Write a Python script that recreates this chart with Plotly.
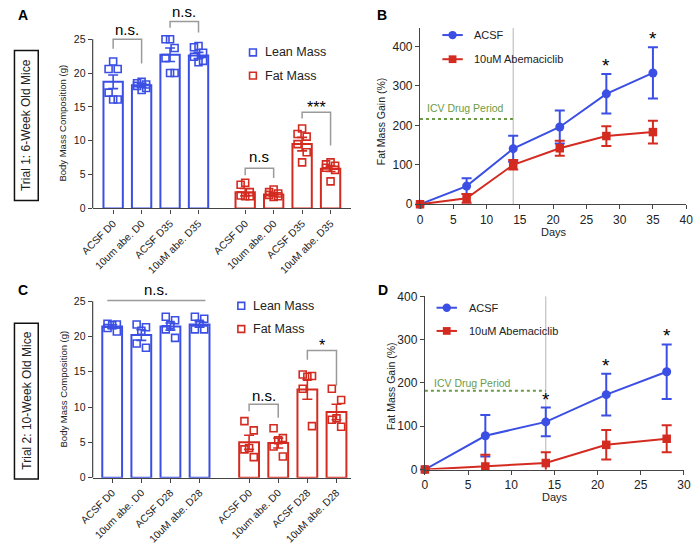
import plotly.graph_objects as go

W, H = 700, 545
BLUE = "#3b4fe4"
RED = "#d42b21"
GRAY = "#9a9a9a"
GREEN = "#6b9b48"
AXIS = "#444444"
TXT = "#222222"
FONT = "Liberation Sans, Arial, sans-serif"

# ---------------- Panel A data (Trial 1) ----------------
a_labels = ["ACSF D0", "10um abe. D0", "ACSF D35", "10uM abe. D35"]
a_lean_mean = [18.7, 18.2, 22.7, 22.6]
a_lean_sem = [1.0, 0.3, 1.0, 0.45]
a_lean_pts = [
    [21.7, 20.6, 20.6, 17.1, 16.1, 16.1],
    [18.7, 18.5, 18.3, 18.1, 17.8, 17.5],
    [25.0, 25.0, 23.7, 22.2, 20.0, 20.0],
    [24.0, 23.8, 23.0, 22.4, 21.8, 21.6],
]
a_fat_mean = [2.4, 2.05, 9.5, 5.85]
a_fat_sem = [0.55, 0.25, 1.0, 0.4]
a_fat_pts = [
    [3.8, 3.5, 2.4, 1.9, 1.8, 1.8],
    [2.8, 2.4, 2.2, 2.0, 1.8, 1.7],
    [11.8, 11.0, 10.6, 9.5, 8.3, 6.8],
    [6.8, 6.5, 6.3, 6.0, 5.7, 4.0],
]

# ---------------- Panel C data (Trial 2) ----------------
c_labels = ["ACSF D0", "10um abe. D0", "ACSF D28", "10uM abe. D28"]
c_lean_mean = [21.4, 20.2, 21.4, 21.7]
c_lean_sem = [0.25, 0.75, 0.5, 0.4]
c_lean_pts = [
    [21.8, 21.7, 21.6, 21.2, 20.7],
    [21.7, 21.3, 20.8, 19.0, 18.4],
    [22.8, 22.3, 21.6, 21.0, 19.8],
    [22.8, 22.5, 21.8, 21.0, 21.0],
]
c_fat_mean = [5.0, 4.9, 12.5, 9.3]
c_fat_sem = [1.0, 0.7, 1.4, 1.1]
c_fat_pts = [
    [8.0, 6.7, 4.2, 4.0, 2.9],
    [7.0, 5.6, 5.3, 4.4, 3.0],
    [14.6, 14.4, 14.3, 12.6, 7.3],
    [12.6, 11.0, 8.4, 8.2, 7.2],
]

# ---------------- Panel B data (Trial 1 fat gain) ----------------
b_days = [0, 7, 14, 21, 28, 35]
b_acsf = [0, 46, 141, 196, 280, 333]
b_acsf_err = [0, 20, 33, 42, 50, 65]
b_abe = [0, 15, 100, 142, 173, 183]
b_abe_err = [0, 11, 12, 19, 25, 29]
b_sig_days = [28, 35]

# ---------------- Panel D data (Trial 2 fat gain) ----------------
d_days = [0, 7, 14, 21, 28]
d_acsf = [0, 78, 110, 173, 226]
d_acsf_err = [0, 48, 33, 48, 63]
d_abe = [0, 7, 15, 57, 71]
d_abe_err = [0, 27, 25, 34, 31]
d_sig_days = [14, 21, 28]

ICV_END_DAY = 14


def px(x):
    return x / W


def py(y):
    return 1 - y / H


JIT = {6: [0.0, -0.16, 0.16, -0.16, 0.16, 0.0],
       5: [-0.16, 0.16, 0.0, -0.16, 0.16]}

fig = go.Figure()
shapes = []
annots = []


def bar_panel(xa, ya, pos_lean, pos_fat, lean_mean, lean_sem, lean_pts,
              fat_mean, fat_sem, fat_pts):
    for pos, mean, sem, pts, col in [(pos_lean, lean_mean, lean_sem, lean_pts, BLUE),
                                      (pos_fat, fat_mean, fat_sem, fat_pts, RED)]:
        fig.add_trace(go.Bar(
            x=pos, y=mean, width=0.68, xaxis=xa, yaxis=ya,
            marker=dict(color="white", line=dict(color=col, width=2)),
            error_y=dict(type="data", array=sem, color=col, thickness=1.6, width=5),
            showlegend=False, hoverinfo="skip"))
        xs, ys = [], []
        for p, grp in zip(pos, pts):
            j = JIT[len(grp)]
            for k, v in enumerate(grp):
                xs.append(p + j[k])
                ys.append(v)
        fig.add_trace(go.Scatter(
            x=xs, y=ys, mode="markers", xaxis=xa, yaxis=ya, cliponaxis=False,
            marker=dict(symbol="square-open", size=7, color=col, line=dict(width=1.6)),
            showlegend=False, hoverinfo="skip"))


# positions: two groups of four with a gap
a_pos_lean = [i for i in range(4)]
a_pos_fat = [i + 4.64 for i in range(4)]
c_pos_lean = [i for i in range(4)]
c_pos_fat = [i + 4.7 for i in range(4)]

bar_panel("x", "y", a_pos_lean, a_pos_fat, a_lean_mean, a_lean_sem, a_lean_pts,
          a_fat_mean, a_fat_sem, a_fat_pts)
bar_panel("x3", "y3", c_pos_lean, c_pos_fat, c_lean_mean, c_lean_sem, c_lean_pts,
          c_fat_mean, c_fat_sem, c_fat_pts)


def line_panel(xa, ya, days, acsf, acsf_err, abe, abe_err):
    fig.add_trace(go.Scatter(
        x=days, y=acsf, mode="lines+markers", xaxis=xa, yaxis=ya, cliponaxis=False,
        line=dict(color=BLUE, width=2), marker=dict(symbol="circle", size=9, color=BLUE),
        error_y=dict(type="data", array=acsf_err, color=BLUE, thickness=2, width=5),
        showlegend=False, hoverinfo="skip"))
    fig.add_trace(go.Scatter(
        x=days, y=abe, mode="lines+markers", xaxis=xa, yaxis=ya, cliponaxis=False,
        line=dict(color=RED, width=2), marker=dict(symbol="square", size=8.5, color=RED),
        error_y=dict(type="data", array=abe_err, color=RED, thickness=2, width=5),
        showlegend=False, hoverinfo="skip"))


line_panel("x2", "y2", b_days, b_acsf, b_acsf_err, b_abe, b_abe_err)
line_panel("x4", "y4", d_days, d_acsf, d_acsf_err, d_abe, d_abe_err)

# stars above ACSF error bars
for xa, ya, days, acsf, err, sig in [("x2", "y2", b_days, b_acsf, b_acsf_err, b_sig_days),
                                     ("x4", "y4", d_days, d_acsf, d_acsf_err, d_sig_days)]:
    for d in sig:
        i = days.index(d)
        annots.append(dict(x=d, y=acsf[i] + err[i], xref=xa, yref=ya, text="*",
                           showarrow=False, xanchor="center", yanchor="bottom", yshift=-4,
                           font=dict(size=19, color="black", family=FONT)))

# ICV period markers
for xa, ya, level, txt_y in [("x2", "y2", 216, 245), ("x4", "y4", 182, 201)]:
    shapes.append(dict(type="line", xref=xa, yref=ya + " domain", x0=ICV_END_DAY, x1=ICV_END_DAY,
                       y0=0, y1=1, line=dict(color="#b5b5b5", width=1), layer="below"))
    shapes.append(dict(type="line", xref=xa, yref=ya, x0=0, x1=ICV_END_DAY, y0=level, y1=level,
                       line=dict(color=GREEN, width=2, dash="dot"), layer="below"))
    annots.append(dict(x=0.8, y=txt_y, xref=xa, yref=ya, text="ICV Drug Period",
                       showarrow=False, xanchor="left", yanchor="middle",
                       font=dict(size=10.5, color=GREEN, family=FONT)))

# significance brackets: (xref, yref, left, right, top, left_bottom, right_bottom, text, text_y, size)
brackets = [
    ("x", "y", a_pos_lean[0], a_pos_lean[1], 25.0, 23.6, 21.4, "n.s.", 26.5, 15),
    ("x", "y", a_pos_lean[2], a_pos_lean[3], 27.6, 26.7, 26.0, "n.s.", 29.1, 15),
    ("x", "y", a_pos_fat[0], a_pos_fat[1], 5.95, 4.9, 4.5, "n.s", 7.6, 15),
    ("x", "y", a_pos_fat[2], a_pos_fat[3], 14.2, 13.3, 9.3, "***", 15.7, 16),
    ("x3", "y3", c_pos_fat[0], c_pos_fat[1], 10.4, 9.4, 8.5, "n.s.", 11.7, 15),
    ("x3", "y3", c_pos_fat[2], c_pos_fat[3], 18.0, 16.7, 13.0, "*", 19.4, 16),
]
for xa, ya, l, r, top, lb, rb, t, ty, fs in brackets:
    shapes.append(dict(type="path", xref=xa, yref=ya,
                       path=f"M {l},{lb} L {l},{top} L {r},{top} L {r},{rb}",
                       line=dict(color=GRAY, width=1.5)))
    annots.append(dict(x=(l + r) / 2, y=ty, xref=xa, yref=ya, text=t, showarrow=False,
                       xanchor="center", yanchor="middle", yshift=(-5 if "*" in t else 0),
                       font=dict(size=fs, color="black", family=FONT)))
# overall n.s. line in panel C
shapes.append(dict(type="line", xref="x3", yref="y3", x0=c_pos_lean[0] - 0.17, x1=c_pos_lean[3] + 0.2,
                   y0=25.1, y1=25.1, line=dict(color=GRAY, width=1.5)))
annots.append(dict(x=(c_pos_lean[0] + c_pos_lean[3]) / 2, y=26.7, xref="x3", yref="y3", text="n.s.",
                   showarrow=False, xanchor="center", yanchor="middle",
                   font=dict(size=15, color="black", family=FONT)))

# manual y axis lines for bar panels (0..25)
for xa, ya in [("x", "y"), ("x3", "y3")]:
    shapes.append(dict(type="line", xref=xa + " domain", yref=ya, x0=0, x1=0, y0=0, y1=25,
                       line=dict(color=AXIS, width=1.2)))

# legends (manual)
for yl, yf, xm in [(47, 71, 247), (309, 333, 235)]:
    for yy, col, t in [(yl, BLUE, "Lean Mass"), (yf, RED, "Fat Mass")]:
        shapes.append(dict(type="rect", xref="paper", yref="paper", x0=px(xm - 3.5), x1=px(xm + 3.5),
                           y0=py(yy + 3.5), y1=py(yy - 3.5), line=dict(color=col, width=1.6)))
        annots.append(dict(x=px(xm + 10), y=py(yy), xref="paper", yref="paper", text=t, showarrow=False,
                           xanchor="left", yanchor="middle", font=dict(size=12.5, color=TXT, family=FONT)))
for y1, y2, x0, x1, xt in [(29, 54, 442, 463, 472), (311, 335, 436, 457, 467)]:
    for yy, col, t, sym in [(y1, BLUE, "ACSF", "circle"), (y2, RED, "10uM Abemaciclib", "rect")]:
        shapes.append(dict(type="line", xref="paper", yref="paper", x0=px(x0), x1=px(x1),
                           y0=py(yy), y1=py(yy), line=dict(color=col, width=2)))
        cx = (x0 + x1) / 2
        r = 4.3 if sym == "circle" else 4
        shapes.append(dict(type=sym, xref="paper", yref="paper", x0=px(cx - r), x1=px(cx + r),
                           y0=py(yy + r), y1=py(yy - r), fillcolor=col, line=dict(color=col, width=0)))
        annots.append(dict(x=px(xt), y=py(yy), xref="paper", yref="paper", text=t, showarrow=False,
                           xanchor="left", yanchor="middle", font=dict(size=11, color=TXT, family=FONT)))

# trial boxes
for y0, y1, t in [(45, 200, "Trial 1: 6-Week Old Mice"), (327, 488, "Trial 2: 10-Week Old Mice")]:
    shapes.append(dict(type="rect", xref="paper", yref="paper", x0=px(1.5), x1=px(26),
                       y0=py(y1), y1=py(y0), line=dict(color="#111111", width=1.5)))
    annots.append(dict(x=px(14), y=py((y0 + y1) / 2), xref="paper", yref="paper", text=t,
                       showarrow=False, textangle=-90, xanchor="center", yanchor="middle",
                       font=dict(size=12, color=TXT, family=FONT)))

# axis titles
for x, y, t, s in [(50, 120, "Body Mass Composition (g)", 9.5), (52, 395, "Body Mass Composition (g)", 9.5),
                   (379, 118, "Fat Mass Gain (%)", 10.5), (389, 392, "Fat Mass Gain (%)", 10.5)]:
    annots.append(dict(x=px(x), y=py(y), xref="paper", yref="paper", text=t, showarrow=False,
                       textangle=-90, xanchor="center", yanchor="middle",
                       font=dict(size=s, color=TXT, family=FONT)))
for x, y in [(557, 233), (558, 507)]:
    annots.append(dict(x=px(x), y=py(y), xref="paper", yref="paper", text="Days", showarrow=False,
                       xanchor="center", yanchor="middle", font=dict(size=11, color=TXT, family=FONT)))

# panel letters
for x, y, t in [(10, 8, "A"), (380, 8, "B"), (10, 293, "C"), (381, 293, "D")]:
    annots.append(dict(x=px(x), y=py(y), xref="paper", yref="paper", text=f"<b>{t}</b>", showarrow=False,
                       xanchor="center", yanchor="middle", font=dict(size=14, color="black", family=FONT)))

tickfont_small = dict(size=10.5, color=TXT, family=FONT)
xtickfont = dict(size=10.3, color=TXT, family=FONT)
tickfont_line = dict(size=12, color=TXT, family=FONT)

common = dict(showgrid=False, zeroline=False, ticks="outside", ticklen=4, tickwidth=1.2,
              tickcolor=AXIS, linecolor=AXIS, linewidth=1.2)

fig.update_layout(
    width=W, height=H, margin=dict(l=0, r=0, t=0, b=0),
    paper_bgcolor="white", plot_bgcolor="white", barmode="overlay",
    font=dict(family=FONT, color=TXT), showlegend=False,
    shapes=shapes, annotations=annots,
    xaxis=dict(domain=[px(82), px(348)], anchor="y", range=[-0.72, 8.36], showline=True,
               tickvals=a_pos_lean + a_pos_fat, ticktext=a_labels + a_labels, tickangle=-45,
               tickfont=xtickfont, **common),
    yaxis=dict(domain=[py(208.3), py(1.8)], anchor="x", range=[0, 29.5], showline=False,
               tickvals=[0, 5, 10, 15, 20, 25], tickfont=tickfont_small, **common),
    xaxis3=dict(domain=[px(82), px(348)], anchor="y3", range=[-0.67, 8.2], showline=True,
                tickvals=c_pos_lean + c_pos_fat, ticktext=c_labels + c_labels, tickangle=-45,
                tickfont=xtickfont, **common),
    yaxis3=dict(domain=[py(486.7), py(275)], anchor="x3", range=[0, 29], showline=False,
                tickvals=[0, 5, 10, 15, 20, 25], tickfont=tickfont_small, **common),
    xaxis2=dict(domain=[px(419), px(693)], anchor="y2", range=[0, 40], showline=True,
                tickvals=list(range(0, 41, 5)), tickfont=tickfont_line, **common),
    yaxis2=dict(domain=[py(204), py(21.7)], anchor="x2", range=[0, 447], showline=True,
                tickvals=[0, 100, 200, 300, 400], tickfont=tickfont_line, **common),
    xaxis4=dict(domain=[px(424), px(690.7)], anchor="y4", range=[0, 30], showline=True,
                tickvals=list(range(0, 31, 5)), tickfont=tickfont_line, **common),
    yaxis4=dict(domain=[py(478.3), py(299.3)], anchor="x4", range=[0, 400], showline=True,
                tickvals=[0, 100, 200, 300, 400], tickfont=tickfont_line, **common),
)

fig.write_html("out.html")
